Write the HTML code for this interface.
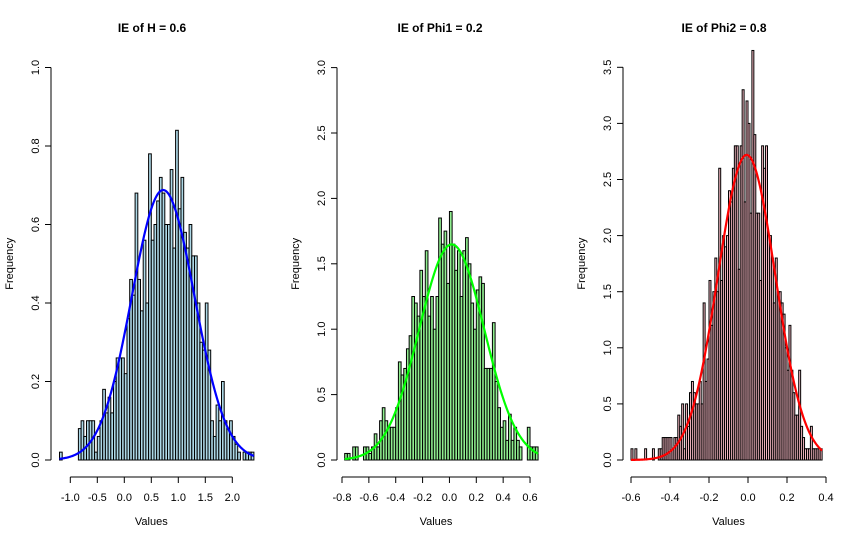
<!DOCTYPE html>
<html><head><meta charset="utf-8"><style>
html,body{margin:0;padding:0;background:#fff;}
svg{display:block;font-family:"Liberation Sans",Arial,sans-serif;}
</style></head><body>
<svg id="chart" width="857" height="541" viewBox="0 0 857 541"></svg>
<script>
// ---- data ----
const h1Values = [.02,0,0,0,0,0,0,.08,.10,.06,.10,.10,.10,.02,.06,.10,.18,.12,.16,.12,.20,.26,.26,.26,.22,.36,.46,.42,.68,.46,.38,.56,.40,.78,.56,.60,.66,.72,.68,.60,.60,.74,.54,.84,.64,.72,.58,.54,.60,.52,.52,.40,.30,.28,.40,.28,.10,.06,.14,.10,.20,.10,.08,.10,.06,.04,.02,0,.02,.02,.02,.02];
const h2Values = [.05,.05,0,.1,.1,0,0,.1,.1,.05,.1,.2,.1,.3,.4,.3,.25,.25,.25,.4,.75,.65,.7,.85,.95,1.25,1.2,1.1,1.45,1.25,1.6,1.1,1.25,1.0,1.25,1.85,1.65,1.75,1.35,1.9,1.65,1.45,1.6,1.25,1.6,1.7,1.5,1.2,1.0,1.3,1.4,1.35,.7,.7,.7,1.05,.6,.4,.25,.3,.15,.35,.15,.25,.15,.1,0,0,.25,.1,.1,.1];
const h3Values = [.1,0,.1,0,0,0,0,.1,0,0,0,.1,0,0,.1,.1,.2,.2,.2,.2,.2,.1,.2,.2,.4,.3,.5,.1,.5,.3,.6,.7,.6,.5,.5,.7,.5,1.4,.7,.9,1.6,1.2,1.5,1.8,1.5,2.6,1.6,2.0,1.9,2.0,2.4,2.3,2.6,2.8,2.8,1.7,2.8,3.3,2.3,3.2,3.0,2.2,3.65,2.9,2.2,2.2,1.6,2.8,2.6,2.8,2.0,2.0,1.8,1.4,1.8,1.5,1.5,1.4,1.3,1.0,.8,1.2,.8,.6,.4,.4,.8,.3,.2,.1,.1,.1,.3,.1,.1,.1,.1,.1];
const binStarts = [-1.2, -0.78, -0.6];
const binWidths = [0.05, 0.02, 0.01];
const curveMeans = [0.72, 0.017, -0.007];
const curveSds = [0.58, 0.242, 0.1467];
const titles = ["IE of H = 0.6", "IE of Phi1 = 0.2", "IE of Phi2 = 0.8"];
const xTicks1 = [-1.0,-0.5,0.0,0.5,1.0,1.5,2.0];
const xTicks2 = [-0.8,-0.6,-0.4,-0.2,0.0,0.2,0.4,0.6];
const xTicks3 = [-0.6,-0.4,-0.2,0.0,0.2,0.4];
const yTicks1 = [0,0.2,0.4,0.6,0.8,1.0];
const yTicks2 = [0,0.5,1.0,1.5,2.0,2.5,3.0];
const yTicks3 = [0,0.5,1.0,1.5,2.0,2.5,3.0,3.5];

const NS = "http://www.w3.org/2000/svg";
const svg = document.getElementById('chart');
function mk(tag, attrs, parent){const e=document.createElementNS(NS,tag);for(const k in attrs)e.setAttribute(k,attrs[k]);(parent||svg).appendChild(e);return e;}

const panels = [
 {vals:h1Values, xt:xTicks1, yt:yTicks1, x0:-1.0, px0:70.3, sx:54, sy:392.5, ax:51, fill:"#add8e6", line:"#0000ff", dec:1, cx:152, name:"h"},
 {vals:h2Values, xt:xTicks2, yt:yTicks2, x0:-0.8, px0:342, sx:134.3, sy:130.8, ax:337, fill:"#90ee90", line:"#00ff00", dec:1, cx:440, name:"phi1"},
 {vals:h3Values, xt:xTicks3, yt:yTicks3, x0:-0.6, px0:631, sx:195, sy:112.2, ax:623, fill:"#ffc0cb", line:"#ff0000", dec:1, cx:724, name:"phi2"}
];
const Y0 = 460;
panels.forEach((p, k) => {
  const g = mk('g', {});
  
  
  const X = v => p.px0 + (v - p.x0) * p.sx;
  const Y = v => Y0 - v * p.sy;
  // bars
  p.vals.forEach((v, i) => {
    const a = binStarts[k] + i * binWidths[k];
    const x1 = X(a), x2 = X(a + binWidths[k]);
    const r = mk('rect', {x:x1, y:Y(v), width:x2-x1, height:Y0-Y(v), fill:p.fill, stroke:"#000", "stroke-width":1}, g);
    
    
  });
  // curve
  const lo = binStarts[k], hi = binStarts[k] + p.vals.length * binWidths[k];
  let d = "";
  for (let j = 0; j <= 200; j++) {
    const xv = lo + (hi - lo) * j / 200;
    const m = curveMeans[k], s = curveSds[k];
    const yv = Math.exp(-0.5 * ((xv - m) / s) ** 2) / (s * Math.sqrt(2 * Math.PI));
    d += (j ? "L" : "M") + X(xv).toFixed(2) + " " + Y(yv).toFixed(2);
  }
  const c = mk('path', {d:d, fill:"none", stroke:p.line, "stroke-width":2.2}, g);
  
  
  // x axis
  const xa = mk('g', {}, g);
  
  
  mk('line', {x1:X(p.xt[0]), x2:X(p.xt[p.xt.length-1]), y1:477, y2:477, stroke:"#000"}, xa);
  p.xt.forEach(t => {
    mk('line', {x1:X(t), x2:X(t), y1:477, y2:483, stroke:"#000"}, xa);
    const tl = mk('text', {x:X(t), y:501, "font-size":11, "text-anchor":"middle", fill:"#000"}, xa);
    tl.textContent = t.toFixed(1);
  });
  const xl = mk('text', {x:(X(p.xt[0]) + X(p.xt[p.xt.length-1]))/2, y:525, "font-size":11, "text-anchor":"middle"}, g);
  xl.textContent = "Values";
  
  
  // y axis
  const ya = mk('g', {}, g);
  
  
  mk('line', {x1:p.ax, x2:p.ax, y1:Y(p.yt[0]), y2:Y(p.yt[p.yt.length-1]), stroke:"#000"}, ya);
  p.yt.forEach(t => {
    mk('line', {x1:p.ax-6, x2:p.ax, y1:Y(t), y2:Y(t), stroke:"#000"}, ya);
    const tl = mk('text', {x:0, y:0, "font-size":11, "text-anchor":"middle", transform:`translate(${p.ax-12},${Y(t)}) rotate(-90)`}, ya);
    tl.textContent = t.toFixed(1);
  });
  const yl = mk('text', {x:0, y:0, "font-size":11, "text-anchor":"middle", transform:`translate(${p.ax-38},${(Y(0)+Y(p.yt[p.yt.length-1]))/2}) rotate(-90)`}, g);
  yl.textContent = "Frequency";
  
  
  // title
  const tt = mk('text', {x:p.cx, y:32, "font-size":12, "font-weight":"bold", "text-anchor":"middle"}, g);
  tt.textContent = titles[k];
  
  
});
</script>
</body></html>
